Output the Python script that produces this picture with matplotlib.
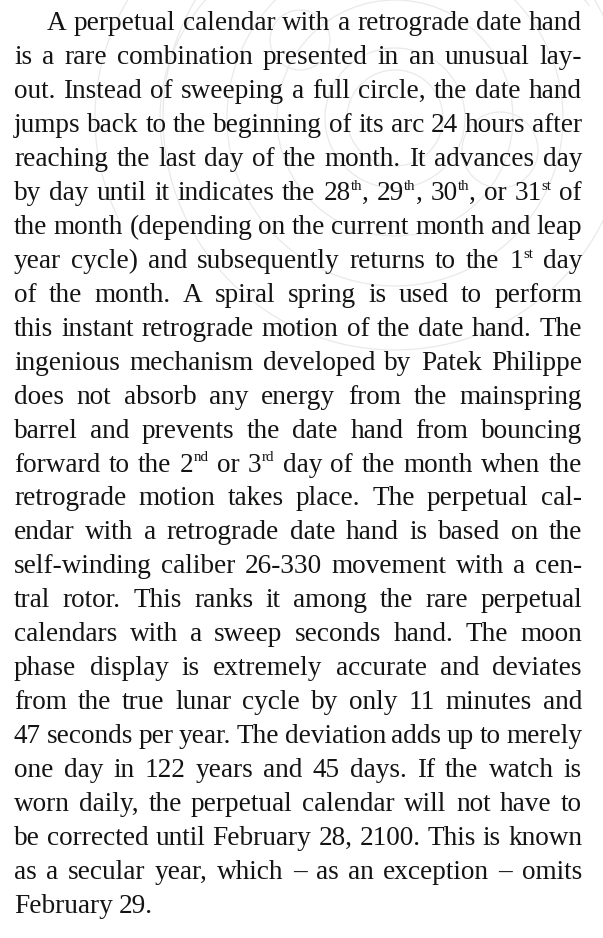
#!/usr/bin/env python3
"""
Justified text block with a faint line-art watermark, saved as out.png.
"""
import re

import matplotlib
matplotlib.use("Agg")
import matplotlib.pyplot as plt
from matplotlib.font_manager import FontProperties
from matplotlib.patches import Circle, Arc


W_PX, H_PX = 603, 938
LEFT, RIGHT = 14, 582
INDENT = 47
FIRST_BASELINE = 30
LAST_BASELINE = 913
TEXT_COLOR = "#141414"
MARK_COLOR = "#e9e9e9"

# {xx} marks a superscript
LINES = [
    "A perpetual calendar with a retrograde date hand",
    "is a rare combination presented in an unusual lay-",
    "out. Instead of sweeping a full circle, the date hand",
    "jumps back to the beginning of its arc 24 hours after",
    "reaching the last day of the month. It advances day",
    "by day until it indicates the 28{th}, 29{th}, 30{th}, or 31{st} of",
    "the month (depending on the current month and leap",
    "year cycle) and subsequently returns to the 1{st} day",
    "of the month. A spiral spring is used to perform",
    "this instant retrograde motion of the date hand. The",
    "ingenious mechanism developed by Patek Philippe",
    "does not absorb any energy from the mainspring",
    "barrel and prevents the date hand from bouncing",
    "forward to the 2{nd} or 3{rd} day of the month when the",
    "retrograde motion takes place. The perpetual cal-",
    "endar with a retrograde date hand is based on the",
    "self-winding caliber 26-330 movement with a cen-",
    "tral rotor. This ranks it among the rare perpetual",
    "calendars with a sweep seconds hand. The moon",
    "phase display is extremely accurate and deviates",
    "from the true lunar cycle by only 11 minutes and",
    "47 seconds per year. The deviation adds up to merely",
    "one day in 122 years and 45 days. If the watch is",
    "worn daily, the perpetual calendar will not have to",
    "be corrected until February 28, 2100. This is known",
    "as a secular year, which \u2013 as an exception \u2013 omits",
    "February 29.",
]

# watermark circles (centre x, centre y, radius) in pixels
MARK_CIRCLES = [(395, 118, 48), (395, 118, 70), (395, 118, 118),
                (395, 118, 168), (395, 118, 232), (500, 150, 38), (300, 40, 30)]
MARK_ARCS = [(395, 118, 600, 520, 160, 300), (395, 118, 470, 400, 170, 330)]


def segments(word):
    parts = re.split(r"\{(\w+)\}", word)
    out = []
    for i, p in enumerate(parts):
        if p:
            out.append((p, i % 2 == 1))
    return out


def main():
    fig = plt.figure(figsize=(W_PX / 100, H_PX / 100), dpi=100)
    ax = fig.add_axes([0, 0, 1, 1])
    ax.set_xlim(0, W_PX)
    ax.set_ylim(H_PX, 0)
    ax.axis("off")

    for cx, cy, r in MARK_CIRCLES:
        ax.add_patch(Circle((cx, cy), r, fill=False, ec=MARK_COLOR, lw=0.9))
    for cx, cy, w, h, a0, a1 in MARK_ARCS:
        ax.add_patch(Arc((cx, cy), w, h, theta1=a0, theta2=a1, ec=MARK_COLOR, lw=0.9))

    renderer = fig.canvas.get_renderer()
    family = "Liberation Serif"
    sup_scale = 0.55

    def width(s, size):
        # pixel width == data width, since the axes fill the figure
        prop = FontProperties(family=family, size=size)
        w, _, _ = renderer.get_text_width_height_descent(s, prop, ismath=False)
        return w

    def word_width(word, size):
        return sum(width(t, size * (sup_scale if sup else 1.0)) for t, sup in segments(word))

    # pick a size so every justified line fits with slightly tight spaces
    base = 18.0
    space0 = width("a a", base) - 2 * width("a", base)
    fit = 99.0
    for i, line in enumerate(LINES[:-1]):
        words = line.split(" ")
        natural = sum(word_width(w, base) for w in words) + 0.55 * space0 * (len(words) - 1)
        avail = RIGHT - LEFT - (INDENT - LEFT if i == 0 else 0)
        fit = min(fit, base * avail / natural)
    size = min(fit, 19.6)

    step = (LAST_BASELINE - FIRST_BASELINE) / (len(LINES) - 1)
    for i, line in enumerate(LINES):
        y = FIRST_BASELINE + i * step
        words = line.split(" ")
        x0 = INDENT if i == 0 else LEFT
        widths = [word_width(w, size) for w in words]
        if i == len(LINES) - 1:
            gap = 0.8 * (width("a a", size) - 2 * width("a", size))
        else:
            gap = (RIGHT - x0 - sum(widths)) / (len(words) - 1)
        x = x0
        for w, ww in zip(words, widths):
            cx = x
            for t, sup in segments(w):
                s = size * (sup_scale if sup else 1.0)
                dy = -size * 0.52 if sup else 0
                ax.text(cx, y + dy, t, fontsize=s, family=family, color=TEXT_COLOR,
                        ha="left", va="baseline")
                cx += width(t, s)
            x += ww + gap

    fig.savefig("out.png", dpi=100, facecolor="white")


if __name__ == "__main__":
    main()
